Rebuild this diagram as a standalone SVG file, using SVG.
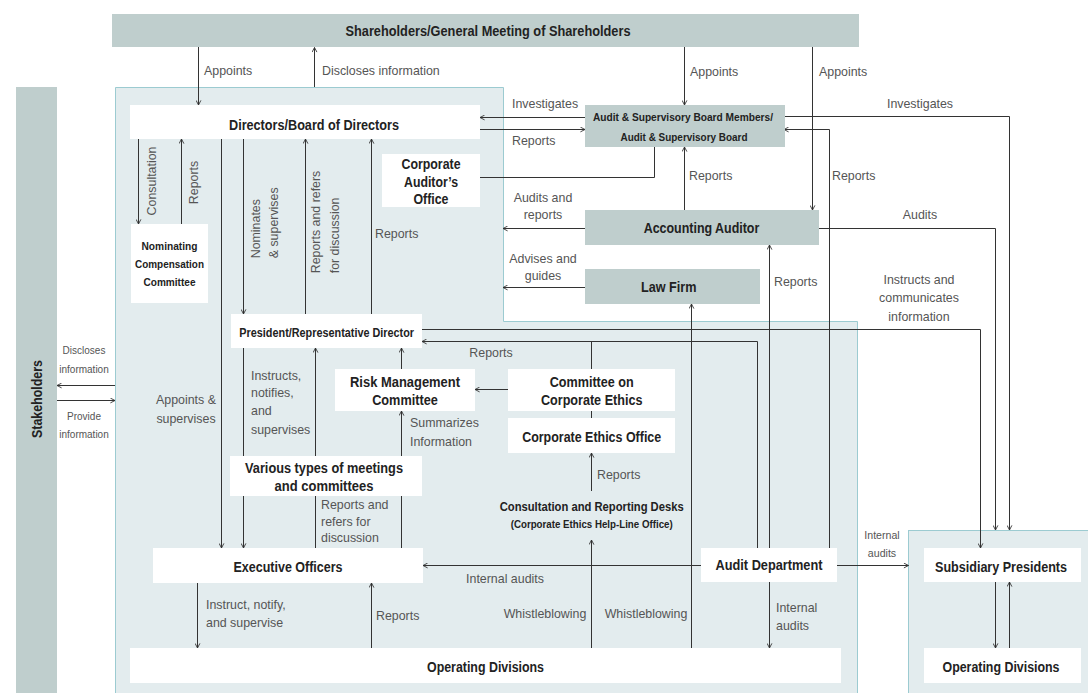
<svg xmlns="http://www.w3.org/2000/svg" width="1088" height="693" viewBox="0 0 1088 693">
<style>
.bg{fill:#fff}
.panel{fill:#e3ecee;stroke:#9ccbd1;stroke-width:1}
.gray{fill:#bfcecd}
.white{fill:#fff}
.c{fill:none;stroke:#333;stroke-width:1}
.a{marker-end:url(#ah)}
.nt{font-family:"Liberation Sans",Arial,sans-serif;font-weight:bold;font-size:14px;fill:#222;text-anchor:middle}
.ns{font-size:11.6px}
.lbl{font-family:"Liberation Sans",Arial,sans-serif;font-size:12.4px;fill:#555}
.sm{font-size:10px}
.mid{text-anchor:middle}
</style>
<defs>
<marker id="ah" viewBox="0 0 6 6" refX="5.6" refY="3" markerWidth="6" markerHeight="6" markerUnits="userSpaceOnUse" orient="auto">
<path d="M1,0.6 L5.6,3 L1,5.4" fill="none" stroke="#333" stroke-width="0.9"/>
</marker>
</defs>
<rect class="bg" x="0" y="0" width="1088" height="693"/>
<g id="panels">
<path class="panel" d="M115.5,87.5 H503.5 V321.5 H857.5 V700 H115.5 Z"/>
<rect class="panel" x="908.5" y="530.5" width="200" height="200"/>
</g>
<g id="connectors" class="c">
<path class="a" d="M198.5,47 V105"/>
<path class="a" d="M314.5,87 V47.5"/>
<path class="a" d="M684.5,47 V105"/>
<path class="a" d="M812.5,47 V210"/>
<path class="a" d="M585,117.5 H480"/>
<path class="a" d="M480,129.5 H585"/>
<path d="M480,177.5 H654.5 V147"/>
<path class="a" d="M784,116.5 H1009.5 V530"/>
<path class="a" d="M684.5,210 V147"/>
<path class="a" d="M829.5,548 V129.5 H784"/>
<path class="a" d="M585,228.5 H503"/>
<path class="a" d="M818,228.5 H995.5 V530"/>
<path class="a" d="M585,287.5 H503"/>
<path class="a" d="M691.5,648 V304"/>
<path class="a" d="M769.5,548 V245"/>
<path class="a" d="M422,329.5 H980.5 V548"/>
<path class="a" d="M757.5,548 V341.5 H422"/>
<path d="M591.5,369 V341.5"/>
<path class="a" d="M508,389.5 H475"/>
<path d="M591.5,410 V418"/>
<path class="a" d="M591.5,491 V453"/>
<path class="a" d="M591.5,648 V540"/>
<path class="a" d="M701,565.5 H423"/>
<path class="a" d="M837,565.5 H908.5"/>
<path class="a" d="M769.5,582 V648"/>
<path class="a" d="M995.5,582 V648"/>
<path class="a" d="M1009.5,648 V582"/>
<path class="a" d="M138.5,139 V224"/>
<path class="a" d="M181.5,224 V139"/>
<path class="a" d="M221.5,139 V548"/>
<path class="a" d="M243.5,139 V314"/>
<path class="a" d="M305.5,314 V139"/>
<path class="a" d="M371.5,314 V139"/>
<path class="a" d="M243.5,348 V548"/>
<path class="a" d="M315.5,548 V348"/>
<path class="a" d="M401.5,548 V411"/>
<path class="a" d="M401.5,369 V348"/>
<path class="a" d="M197.5,583 V648"/>
<path class="a" d="M371.5,648 V583"/>
<path class="a" d="M115,385.5 H57"/>
<path class="a" d="M57,400.5 H115"/>
</g>
<g id="shareholders"><rect class="gray" x="112" y="14" width="747" height="33"/><text class="nt" x="488" y="36" textLength="285" lengthAdjust="spacingAndGlyphs">Shareholders/General Meeting of Shareholders</text></g>
<g id="stakeholders"><rect class="gray" x="16" y="87" width="41" height="607"/><text class="nt" transform="translate(37,399) rotate(-90)" x="0" y="5" textLength="78" lengthAdjust="spacingAndGlyphs">Stakeholders</text></g>
<g id="directors"><rect class="white" x="130" y="105" width="350" height="34"/><text class="nt" x="314" y="130" textLength="170" lengthAdjust="spacingAndGlyphs">Directors/Board of Directors</text></g>
<g id="audit-supervisory-board"><rect class="gray" x="585" y="105" width="200" height="42"/><text class="nt ns" x="683" y="121" textLength="180" lengthAdjust="spacingAndGlyphs">Audit &amp; Supervisory Board Members/</text><text class="nt ns" x="684" y="141" textLength="127" lengthAdjust="spacingAndGlyphs">Audit &amp; Supervisory Board</text></g>
<g id="corporate-auditors-office"><rect class="white" x="382" y="154" width="98" height="53"/><text class="nt" x="431" y="169" textLength="59" lengthAdjust="spacingAndGlyphs">Corporate</text><text class="nt" x="431" y="187" textLength="54" lengthAdjust="spacingAndGlyphs">Auditor’s</text><text class="nt" x="431" y="204" textLength="35" lengthAdjust="spacingAndGlyphs">Office</text></g>
<g id="nominating-committee"><rect class="white" x="131" y="224" width="77" height="79"/><text class="nt ns" x="169.5" y="250" textLength="56" lengthAdjust="spacingAndGlyphs">Nominating</text><text class="nt ns" x="169.5" y="268" textLength="69" lengthAdjust="spacingAndGlyphs">Compensation</text><text class="nt ns" x="169.5" y="285.8" textLength="52" lengthAdjust="spacingAndGlyphs">Committee</text></g>
<g id="accounting-auditor"><rect class="gray" x="585" y="210" width="234" height="35"/><text class="nt" x="701.5" y="233" textLength="115.6" lengthAdjust="spacingAndGlyphs">Accounting Auditor</text></g>
<g id="law-firm"><rect class="gray" x="585" y="269" width="175" height="35"/><text class="nt" x="668.7" y="292" textLength="55.5" lengthAdjust="spacingAndGlyphs">Law Firm</text></g>
<g id="president"><rect class="white" x="231" y="314" width="191" height="34"/><text class="nt" style="font-size:12.4px" x="326.7" y="337" textLength="174.7" lengthAdjust="spacingAndGlyphs">President/Representative Director</text></g>
<g id="risk-management-committee"><rect class="white" x="335" y="369" width="140" height="42"/><text class="nt" x="405" y="386.6" textLength="110" lengthAdjust="spacingAndGlyphs">Risk Management</text><text class="nt" x="405" y="405" textLength="65.6" lengthAdjust="spacingAndGlyphs">Committee</text></g>
<g id="committee-corporate-ethics"><rect class="white" x="508" y="369" width="167" height="42"/><text class="nt" x="591.7" y="386.6" textLength="84" lengthAdjust="spacingAndGlyphs">Committee on</text><text class="nt" x="591.7" y="405" textLength="101.5" lengthAdjust="spacingAndGlyphs">Corporate Ethics</text></g>
<g id="corporate-ethics-office"><rect class="white" x="508" y="418" width="167" height="35"/><text class="nt" x="591.7" y="441.6" textLength="139" lengthAdjust="spacingAndGlyphs">Corporate Ethics Office</text></g>
<g id="consultation-desks"><text class="nt" style="font-size:12.6px" x="591.7" y="511" textLength="184" lengthAdjust="spacingAndGlyphs">Consultation and Reporting Desks</text><text class="nt" style="font-size:10.6px" x="591.7" y="527.8" textLength="162" lengthAdjust="spacingAndGlyphs">(Corporate Ethics Help-Line Office)</text></g>
<g id="various-meetings"><rect class="white" x="230" y="456" width="192" height="40"/><text class="nt" x="324" y="472.6" textLength="158" lengthAdjust="spacingAndGlyphs">Various types of meetings</text><text class="nt" x="324" y="490.6" textLength="98.8" lengthAdjust="spacingAndGlyphs">and committees</text></g>
<g id="executive-officers"><rect class="white" x="153" y="548" width="270" height="35"/><text class="nt" x="288" y="571.6" textLength="109" lengthAdjust="spacingAndGlyphs">Executive Officers</text></g>
<g id="audit-department"><rect class="white" x="701" y="548" width="136" height="34"/><text class="nt" x="769" y="570" textLength="107" lengthAdjust="spacingAndGlyphs">Audit Department</text></g>
<g id="subsidiary-presidents"><rect class="white" x="924" y="548" width="157" height="34"/><text class="nt" x="1001" y="571.6" textLength="132" lengthAdjust="spacingAndGlyphs">Subsidiary Presidents</text></g>
<g id="operating-divisions"><rect class="white" x="130" y="648" width="711" height="35"/><text class="nt" x="485.5" y="672.2" textLength="117" lengthAdjust="spacingAndGlyphs">Operating Divisions</text></g>
<g id="subsidiary-operating-divisions"><rect class="white" x="924" y="648" width="157" height="35"/><text class="nt" x="1001" y="672.2" textLength="117" lengthAdjust="spacingAndGlyphs">Operating Divisions</text></g>
<g id="labels" class="lbl">
<text x="204" y="74.5">Appoints</text>
<text x="322" y="74.5">Discloses information</text>
<text x="690" y="76">Appoints</text>
<text x="819" y="76">Appoints</text>
<text x="512" y="108">Investigates</text>
<text x="512" y="145">Reports</text>
<text class="mid" x="920" y="108">Investigates</text>
<text x="689" y="180">Reports</text>
<text x="832" y="180">Reports</text>
<text class="mid" x="543" y="202">Audits and</text>
<text class="mid" x="543" y="219">reports</text>
<text class="mid" x="920" y="219">Audits</text>
<text class="mid" x="543" y="263">Advises and</text>
<text class="mid" x="543" y="280">guides</text>
<text x="774" y="286">Reports</text>
<text class="mid" x="919" y="284">Instructs and</text>
<text class="mid" x="919" y="302">communicates</text>
<text class="mid" x="919" y="321">information</text>
<text x="375" y="238">Reports</text>
<text class="mid" x="491" y="357">Reports</text>
<text x="597" y="479">Reports</text>
<text class="mid" x="545" y="618">Whistleblowing</text>
<text class="mid" x="646" y="618">Whistleblowing</text>
<text class="mid" x="505" y="583">Internal audits</text>
<text class="mid sm" style="font-size:10.6px" x="882" y="539">Internal</text>
<text class="mid sm" style="font-size:10.6px" x="882" y="557">audits</text>
<text x="776" y="612">Internal</text>
<text x="776" y="630">audits</text>
<text x="206" y="609">Instruct, notify,</text>
<text x="206" y="627">and supervise</text>
<text x="376" y="620">Reports</text>
<text x="321" y="509">Reports and</text>
<text x="321" y="526">refers for</text>
<text x="321" y="542">discussion</text>
<text x="410" y="427">Summarizes</text>
<text x="410" y="446">Information</text>
<text x="251" y="380">Instructs,</text>
<text x="251" y="397">notifies,</text>
<text x="251" y="415">and</text>
<text x="251" y="434">supervises</text>
<text class="mid" x="186" y="404">Appoints &amp;</text>
<text class="mid" x="186" y="423">supervises</text>
<text class="mid sm" x="84" y="354">Discloses</text>
<text class="mid sm" x="84" y="372.5">information</text>
<text class="mid sm" x="84" y="419.5">Provide</text>
<text class="mid sm" x="84" y="437.5">information</text>
<text class="mid" transform="translate(151.7,181) rotate(-90)" x="0" y="4.3">Consultation</text>
<text class="mid" transform="translate(193.3,182.5) rotate(-90)" x="0" y="4.3">Reports</text>
<text transform="translate(256,258.3) rotate(-90)" x="0" y="4.3">Nominates</text>
<text transform="translate(273.3,258.3) rotate(-90)" x="0" y="4.3">&amp; supervises</text>
<text transform="translate(316,273.3) rotate(-90)" x="0" y="4.3">Reports and refers</text>
<text transform="translate(334.3,273.3) rotate(-90)" x="0" y="4.3">for discussion</text>
</g>
</svg>
